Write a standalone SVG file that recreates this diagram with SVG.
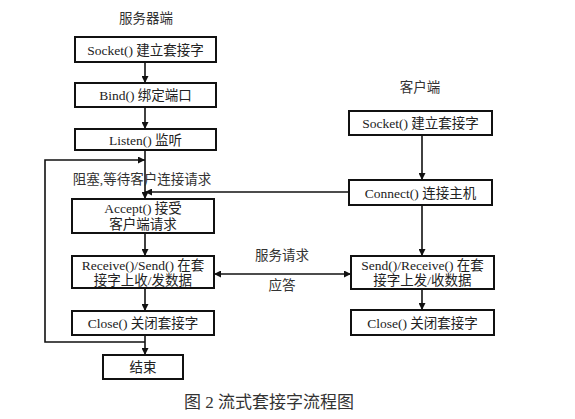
<svg xmlns="http://www.w3.org/2000/svg" width="575" height="419" viewBox="0 0 575 419">
<defs>
<style>
.box{fill:#fff;stroke:#111;stroke-width:2}
.t{font-family:"Liberation Serif","Noto Sans CJK SC",serif;font-size:13.5px;fill:#222;text-anchor:middle}
.lbl{font-family:"Liberation Serif","Noto Sans CJK SC",serif;font-size:13.5px;fill:#333;text-anchor:middle}
.cap{font-family:"Liberation Serif","Noto Sans CJK SC",serif;font-size:17px;fill:#333;text-anchor:middle}
.ln{fill:none;stroke:#111;stroke-width:1.6}
</style>
<marker id="ah" viewBox="0 0 10 10" refX="10" refY="5" markerWidth="7" markerHeight="7" markerUnits="userSpaceOnUse" orient="auto-start-reverse">
<path d="M0,0 L10,5 L0,10 Z" fill="#111"/>
</marker>
</defs>
<rect width="575" height="419" fill="#fff"/>
<text class="lbl" x="146" y="23">服务器端</text>
<text class="lbl" x="420" y="92">客户端</text>
<g id="connectors">
<line class="ln" x1="145" y1="62" x2="145" y2="83" marker-end="url(#ah)"/>
<line class="ln" x1="145" y1="107" x2="145" y2="129" marker-end="url(#ah)"/>
<line class="ln" x1="145" y1="150" x2="145" y2="199" marker-end="url(#ah)"/>
<polyline class="ln" points="145,342 45,342 45,160 145,160" marker-end="url(#ah)"/>
<line class="ln" x1="349" y1="192" x2="145" y2="192" marker-end="url(#ah)"/>
<line class="ln" x1="145" y1="233" x2="145" y2="256" marker-end="url(#ah)"/>
<line class="ln" x1="145" y1="288" x2="145" y2="311" marker-end="url(#ah)"/>
<line class="ln" x1="145" y1="335" x2="145" y2="355" marker-end="url(#ah)"/>
<line class="ln" x1="422" y1="135" x2="422" y2="180" marker-end="url(#ah)"/>
<line class="ln" x1="422" y1="205" x2="422" y2="256" marker-end="url(#ah)"/>
<line class="ln" x1="422" y1="289" x2="422" y2="310" marker-end="url(#ah)"/>
<line class="ln" x1="214" y1="274" x2="351" y2="274" marker-start="url(#ah)" marker-end="url(#ah)"/>
<text class="lbl" x="142" y="184">阻塞,等待客户连接请求</text>
<text class="lbl" x="282" y="260">服务请求</text>
<text class="lbl" x="282" y="290">应答</text>
</g>
<g id="s_socket"><rect class="box" x="75" y="37" width="141" height="25"/><text class="t" x="145.5" y="54.5">Socket() 建立套接字</text></g>
<g id="s_bind"><rect class="box" x="75" y="83" width="141" height="24"/><text class="t" x="145.5" y="100">Bind() 绑定端口</text></g>
<g id="s_listen"><rect class="box" x="75" y="129" width="141" height="21"/><text class="t" x="145.5" y="144.5">Listen() 监听</text></g>
<g id="s_accept"><rect class="box" x="72" y="199" width="142" height="34"/><text class="t" x="143" y="213">Accept() 接受</text><text class="t" x="143" y="228.5">客户端请求</text></g>
<g id="s_recv"><rect class="box" x="72" y="256" width="142" height="32"/><text class="t" x="143" y="270">Receive()/Send() 在套</text><text class="t" x="143" y="284.5">接字上收/发数据</text></g>
<g id="s_close"><rect class="box" x="72" y="311" width="142" height="24"/><text class="t" x="143" y="328">Close() 关闭套接字</text></g>
<g id="s_end"><rect class="box" x="103" y="355" width="80" height="24"/><text class="t" x="143" y="372">结束</text></g>
<g id="c_socket"><rect class="box" x="349" y="111" width="143" height="24"/><text class="t" x="420.5" y="128">Socket() 建立套接字</text></g>
<g id="c_connect"><rect class="box" x="349" y="180" width="143" height="25"/><text class="t" x="420.5" y="197.5">Connect() 连接主机</text></g>
<g id="c_send"><rect class="box" x="351" y="256" width="143" height="33"/><text class="t" x="422.5" y="270">Send()/Receive() 在套</text><text class="t" x="422.5" y="285">接字上发/收数据</text></g>
<g id="c_close"><rect class="box" x="351" y="310" width="143" height="25"/><text class="t" x="422.5" y="327.5">Close() 关闭套接字</text></g>
<text class="cap" x="269" y="408">图 2 流式套接字流程图</text>
</svg>
